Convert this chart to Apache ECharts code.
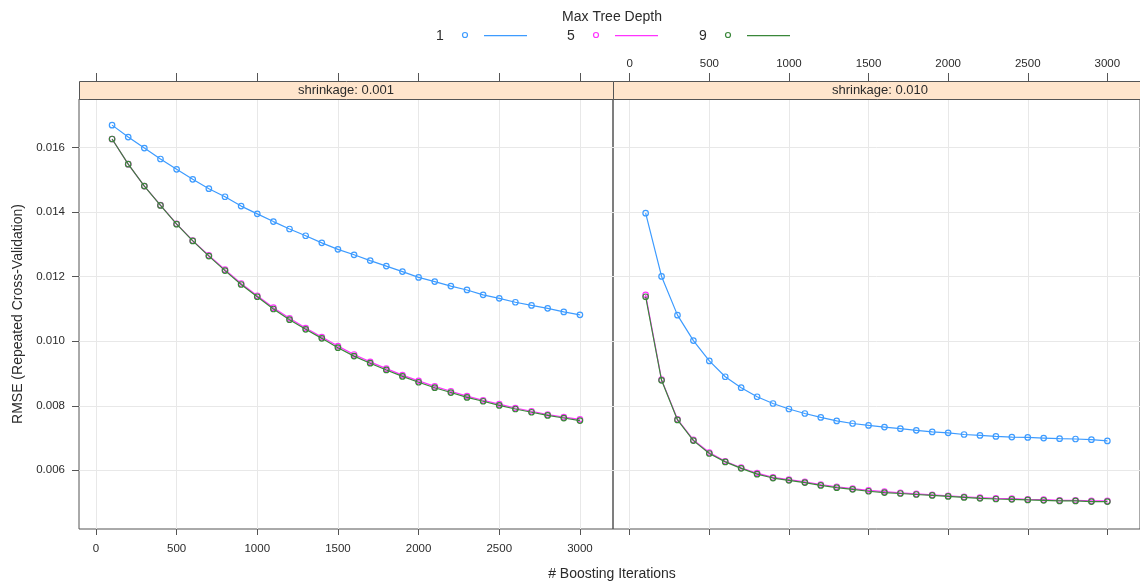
<!DOCTYPE html>
<html><head><meta charset="utf-8">
<script src="https://cdn.jsdelivr.net/npm/echarts@6/dist/echarts.min.js"></script>
<style>html,body{margin:0;padding:0;background:#fff}#c{width:1140px;height:582px}</style>
</head><body><div id="c"></div>
<script>
// ---- data ----
const iterations = [100,200,300,400,500,600,700,800,900,1000,1100,1200,1300,1400,1500,1600,1700,1800,1900,2000,2100,2200,2300,2400,2500,2600,2700,2800,2900,3000];
const depthNames = ['1', '5', '9'];
const panelTitles = ['shrinkage: 0.001', 'shrinkage: 0.010'];
const xTicks = [0, 500, 1000, 1500, 2000, 2500, 3000];
const yTicks = [0.006, 0.008, 0.010, 0.012, 0.014, 0.016];

// shrinkage 0.001
const depth1_s001 = [0.01670,0.01633,0.01599,0.01565,0.01533,0.01502,0.01473,0.01448,0.01419,0.01395,0.01371,0.01348,0.01327,0.01305,0.01285,0.01268,0.01250,0.01233,0.01216,0.01198,0.01185,0.01171,0.01159,0.01144,0.01133,0.01121,0.01111,0.01102,0.01091,0.01082];
const depth5_s001 = [0.01627,0.01549,0.01481,0.01422,0.01364,0.01312,0.01266,0.01222,0.01179,0.01141,0.01104,0.01071,0.01041,0.01013,0.00985,0.00959,0.00936,0.00915,0.00895,0.00877,0.00860,0.00845,0.00830,0.00817,0.00805,0.00793,0.00783,0.00773,0.00765,0.00758];
const depth9_s001 = [0.01627,0.01549,0.01481,0.01421,0.01363,0.01311,0.01264,0.01219,0.01176,0.01138,0.01100,0.01067,0.01037,0.01009,0.00980,0.00954,0.00932,0.00911,0.00891,0.00873,0.00856,0.00841,0.00826,0.00814,0.00801,0.00790,0.00780,0.00770,0.00762,0.00754];
// shrinkage 0.010
const depth1_s010 = [0.01397,0.01201,0.01081,0.01002,0.00939,0.00890,0.00856,0.00828,0.00807,0.00790,0.00776,0.00764,0.00753,0.00745,0.00739,0.00734,0.00729,0.00724,0.00719,0.00716,0.00711,0.00708,0.00705,0.00703,0.00702,0.00700,0.00698,0.00697,0.00695,0.00691];
const depth5_s010 = [0.01144,0.00881,0.00758,0.00694,0.00655,0.00628,0.00608,0.00591,0.00578,0.00571,0.00564,0.00556,0.00549,0.00543,0.00538,0.00534,0.00530,0.00527,0.00524,0.00521,0.00518,0.00515,0.00513,0.00512,0.00510,0.00509,0.00507,0.00507,0.00505,0.00505];
const depth9_s010 = [0.01138,0.00879,0.00756,0.00692,0.00652,0.00626,0.00606,0.00588,0.00576,0.00569,0.00562,0.00553,0.00546,0.00541,0.00535,0.00531,0.00528,0.00525,0.00522,0.00519,0.00516,0.00513,0.00511,0.00510,0.00508,0.00507,0.00505,0.00505,0.00503,0.00503];

const panelData = [
  [depth1_s001, depth5_s001, depth9_s001],
  [depth1_s010, depth5_s010, depth9_s010]
];
const colors = ['#3d9bff', '#ff33ff', '#3a873a'];

// ---- layout ----
const FONT = 'Liberation Sans, Arial, sans-serif';
const TXT = '#2b2b2b';
const BORDER = '#555555';
const GRIDC = '#e8e8e8';
const panelLeft = [79, 613];
const panelWidth = 534;
const panelTop = 99;
const panelBottom = 53; // 582-529
const stripH = 18;
const xMin = -105, xMax = 3205;
const yMin = 0.00418, yMax = 0.01751;

const chart = echarts.init(document.getElementById('c'), null, {renderer: 'canvas'});

const grids = panelLeft.map(l => ({
  left: l, top: panelTop, width: panelWidth, bottom: panelBottom,
  show: true, borderColor: BORDER, borderWidth: 1, backgroundColor: 'transparent', containLabel: false
}));

const xAxes = [];
const yAxes = [];
panelLeft.forEach((l, p) => {
  // bottom axis
  xAxes.push({
    type: 'value', gridIndex: p, position: 'bottom', min: xMin, max: xMax,
    axisLine: {show: false, onZero: false},
    axisTick: {show: true, length: 6, customValues: xTicks, lineStyle: {color: BORDER}},
    axisLabel: {show: p === 0, customValues: xTicks, margin: 14, color: TXT, fontFamily: FONT, fontSize: 11.5,
      formatter: v => String(v)},
    splitLine: {show: true, lineStyle: {color: GRIDC, width: 1}}
  });
  // top axis
  xAxes.push({
    type: 'value', gridIndex: p, position: 'top', offset: stripH, min: xMin, max: xMax,
    axisLine: {show: false, onZero: false},
    axisTick: {show: true, length: 8, customValues: xTicks, lineStyle: {color: BORDER}},
    axisLabel: {show: p === 1, customValues: xTicks, margin: 11, color: TXT, fontFamily: FONT, fontSize: 11.5,
      formatter: v => String(v)},
    splitLine: {show: false}
  });
  yAxes.push({
    type: 'value', gridIndex: p, position: 'left', min: yMin, max: yMax,
    name: p === 0 ? 'RMSE (Repeated Cross-Validation)' : '',
    nameLocation: 'middle', nameGap: 54, nameRotate: 90,
    nameTextStyle: {color: TXT, fontFamily: FONT, fontSize: 14},
    axisLine: {show: false, onZero: false},
    axisTick: {show: p === 0, length: 7, customValues: yTicks, lineStyle: {color: BORDER}},
    axisLabel: {show: p === 0, customValues: yTicks, margin: 14, color: TXT, fontFamily: FONT, fontSize: 11.5,
      formatter: v => v.toFixed(3)},
    splitLine: {show: true, lineStyle: {color: GRIDC, width: 1}}
  });
});

const series = [];
panelData.forEach((arrs, p) => {
  arrs.forEach((arr, k) => {
    series.push({
      type: 'line', name: depthNames[k], xAxisIndex: p * 2, yAxisIndex: p,
      data: iterations.map((x, i) => [x, arr[i]]),
      symbol: 'circle', symbolSize: 5.5, showSymbol: true,
      lineStyle: {color: colors[k], width: 1.2},
      itemStyle: {color: 'rgba(0,0,0,0)', borderColor: colors[k], borderWidth: 1.2},
      emphasis: {disabled: true}, silent: true, animation: false, z: 3 + k
    });
  });
});

// strips and texts
const graphics = [];
panelLeft.forEach((l, p) => {
  graphics.push({
    type: 'rect', z: 10, silent: true,
    shape: {x: l + 0.5, y: panelTop - stripH + 0.5, width: panelWidth, height: stripH},
    style: {fill: '#ffe5cc', stroke: BORDER, lineWidth: 1}
  });
  graphics.push({
    type: 'text', z: 11, silent: true,
    x: l + panelWidth / 2, y: panelTop - stripH / 2,
    style: {text: panelTitles[p], fill: TXT, font: '13px ' + FONT, align: 'center', verticalAlign: 'middle'}
  });
});
// x axis title
graphics.push({
  type: 'text', silent: true, x: 612, y: 574,
  style: {text: '# Boosting Iterations', fill: TXT, font: '14px ' + FONT, align: 'center', verticalAlign: 'middle'}
});
// legend
graphics.push({
  type: 'text', silent: true, x: 612, y: 17,
  style: {text: 'Max Tree Depth', fill: TXT, font: '14px ' + FONT, align: 'center', verticalAlign: 'middle'}
});
const legendX = [440, 571, 703];
depthNames.forEach((nm, k) => {
  const x0 = legendX[k];
  graphics.push({type: 'text', silent: true, x: x0, y: 36,
    style: {text: nm, fill: TXT, font: '14px ' + FONT, align: 'center', verticalAlign: 'middle'}});
  graphics.push({type: 'circle', silent: true, shape: {cx: x0 + 25, cy: 35, r: 2.5},
    style: {fill: 'none', stroke: colors[k], lineWidth: 1.2}});
  graphics.push({type: 'rect', silent: true, shape: {x: x0 + 44, y: 35, width: 43, height: 1.2},
    style: {fill: colors[k], stroke: 'none'}});
});

chart.setOption({
  backgroundColor: '#ffffff',
  animation: false,
  grid: grids,
  xAxis: xAxes,
  yAxis: yAxes,
  series: series,
  graphic: graphics
});
</script>
</body></html>
